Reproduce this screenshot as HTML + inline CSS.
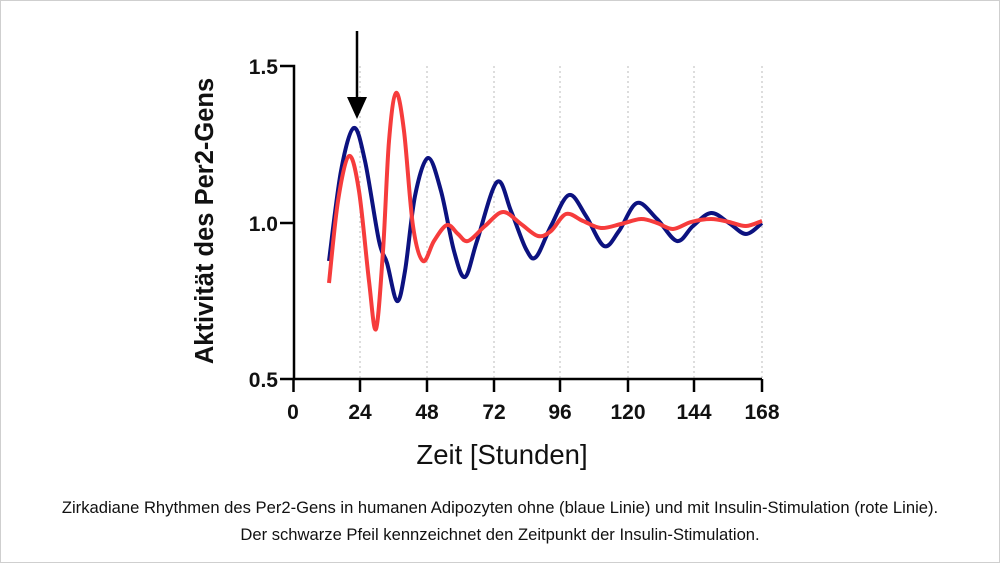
<!DOCTYPE html>
<html><head><meta charset="utf-8"><style>
html,body{margin:0;padding:0;background:#fff}
#c{position:relative;width:998px;height:561px;border:1px solid #cfcfcf;overflow:hidden}
svg{position:absolute;left:0;top:0}
.cap{position:absolute;left:0;width:998px;text-align:center;font:16.6px "Liberation Sans",sans-serif;color:#111}
</style></head><body><div id="c">
<svg width="1000" height="563" viewBox="0 0 1000 563" font-family="Liberation Sans, sans-serif">
<g stroke="#bbb" stroke-width="1" stroke-dasharray="2,3">
<line x1="359" y1="65" x2="359" y2="377"/><line x1="426" y1="65" x2="426" y2="377"/><line x1="493" y1="65" x2="493" y2="377"/><line x1="559" y1="65" x2="559" y2="377"/><line x1="627" y1="65" x2="627" y2="377"/><line x1="693" y1="65" x2="693" y2="377"/><line x1="761" y1="65" x2="761" y2="377"/>
</g>
<g stroke="#000" stroke-width="2.5" fill="none">
<polyline points="279,65 293,65 293,378 761,378"/>
<line x1="279" y1="222" x2="293" y2="222"/><line x1="279" y1="378" x2="293" y2="378"/>
<line x1="292.5" y1="378" x2="292.5" y2="391"/><line x1="359" y1="378" x2="359" y2="391"/><line x1="426" y1="378" x2="426" y2="391"/><line x1="493" y1="378" x2="493" y2="391"/><line x1="559" y1="378" x2="559" y2="391"/><line x1="627" y1="378" x2="627" y2="391"/><line x1="693" y1="378" x2="693" y2="391"/><line x1="761" y1="378" x2="761" y2="391"/>
</g>
<g font-size="21" font-weight="bold" text-anchor="end" fill="#111">
<text x="277" y="73">1.5</text><text x="277" y="230">1.0</text><text x="277" y="386">0.5</text>
</g>
<g font-size="21" font-weight="bold" text-anchor="middle" fill="#111">
<text x="292" y="418">0</text><text x="359" y="418">24</text><text x="426" y="418">48</text><text x="493" y="418">72</text><text x="559" y="418">96</text><text x="627" y="418">120</text><text x="693" y="418">144</text><text x="761" y="418">168</text>
</g>
<text x="501" y="463" font-size="27.5" text-anchor="middle" fill="#111">Zeit [Stunden]</text>
<text transform="translate(212,220) rotate(-90)" font-size="25.5" font-weight="bold" text-anchor="middle" fill="#111">Aktivität des Per2-Gens</text>
<path id="b" fill="none" stroke="#0c1280" stroke-width="4" stroke-linejoin="round"/>
<path id="r" fill="none" stroke="#f63c3c" stroke-width="4" stroke-linejoin="round"/>
<line x1="356" y1="30" x2="356" y2="98" stroke="#000" stroke-width="2.5"/>
<polygon points="346,96 366,96 356,118" fill="#000"/>
</svg>
<div class="cap" style="top:497px">Zirkadiane Rhythmen des Per2-Gens in humanen Adipozyten ohne (blaue Linie) und mit Insulin-Stimulation (rote Linie).</div>
<div class="cap" style="top:524px">Der schwarze Pfeil kennzeichnet den Zeitpunkt der Insulin-Stimulation.</div>
</div>
<script>
function cr(p){var d="M"+p[0][0]+","+p[0][1];for(var i=0;i<p.length-1;i++){var a=p[i-1]||p[i],b=p[i],c=p[i+1],e=p[i+2]||c;
d+=" C"+(b[0]+(c[0]-a[0])/6).toFixed(1)+","+(b[1]+(c[1]-a[1])/6).toFixed(1)+" "+(c[0]-(e[0]-b[0])/6).toFixed(1)+","+(c[1]-(e[1]-b[1])/6).toFixed(1)+" "+c[0]+","+c[1];}return d;}
var B=[[328,260],[340,170],[352.7,127],[364,160],[378,240],[386,262],[396,300],[404,270],[414,195],[427,157],[440,190],[453,250],[464,276],[476,240],[496,181],[510,210],[525,248],[535,256],[550,225],[568,194],[585,215],[603,245],[618,230],[636,202],[656,218],[676,240],[692,225],[710,212],[728,222],[745,233],[761,222]];
var R=[[328,282],[337,200],[348,155],[358,190],[368,280],[375,328],[382,250],[388,140],[395,92],[403,130],[412,225],[422,260],[433,240],[446,224],[457,233],[467,240],[484,225],[502,211],[520,223],[537,235],[550,230],[565,213],[582,220],[600,227],[620,223],[640,218],[656,222],[672,228],[690,221],[710,218],[728,221],[745,225],[761,220]];
document.getElementById("b").setAttribute("d",cr(B));
document.getElementById("r").setAttribute("d",cr(R));
</script>
</body></html>
